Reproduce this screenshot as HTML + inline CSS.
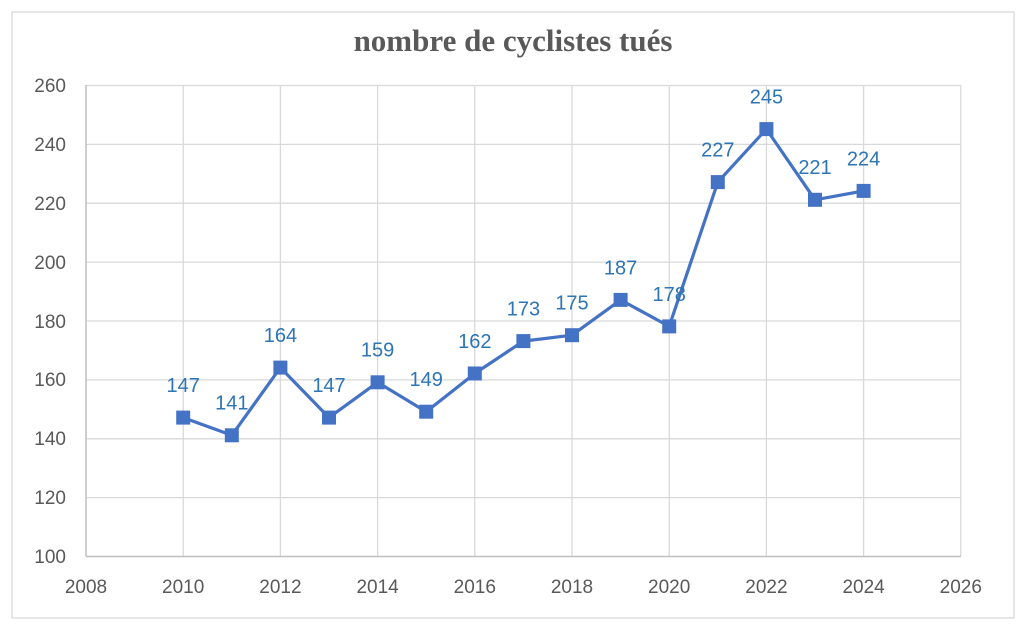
<!DOCTYPE html>
<html><head><meta charset="utf-8"><style>body{margin:0;background:#fff}</style></head><body>
<svg width="1030" height="632" xmlns="http://www.w3.org/2000/svg" font-family="Liberation Sans, sans-serif">
<rect x="0" y="0" width="1030" height="632" fill="#fff"/>
<rect x="12" y="12" width="1002" height="606" fill="none" stroke="#d9d9d9" stroke-width="1.3"/>
<text x="513" y="51" text-anchor="middle" font-family="Liberation Serif, serif" font-weight="bold" font-size="31" fill="#595959">nombre de cyclistes tués</text>
<g stroke="#d9d9d9" stroke-width="1.3">
<line x1="86" y1="85.5" x2="961" y2="85.5"/><line x1="86" y1="144.4" x2="961" y2="144.4"/><line x1="86" y1="203.2" x2="961" y2="203.2"/><line x1="86" y1="262.1" x2="961" y2="262.1"/><line x1="86" y1="321" x2="961" y2="321"/><line x1="86" y1="379.9" x2="961" y2="379.9"/><line x1="86" y1="438.8" x2="961" y2="438.8"/><line x1="86" y1="497.6" x2="961" y2="497.6"/>
<line x1="183.2" y1="85.5" x2="183.2" y2="556"/><line x1="280.4" y1="85.5" x2="280.4" y2="556"/><line x1="377.6" y1="85.5" x2="377.6" y2="556"/><line x1="474.8" y1="85.5" x2="474.8" y2="556"/><line x1="572" y1="85.5" x2="572" y2="556"/><line x1="669.2" y1="85.5" x2="669.2" y2="556"/><line x1="766.4" y1="85.5" x2="766.4" y2="556"/><line x1="863.6" y1="85.5" x2="863.6" y2="556"/><line x1="960.8" y1="85.5" x2="960.8" y2="556"/>
</g>
<g stroke="#bfbfbf" stroke-width="1.5"><line x1="86" y1="85" x2="86" y2="556.5"/><line x1="86" y1="556.5" x2="961" y2="556.5"/></g>
<g font-size="19" fill="#595959" text-anchor="end">
<text x="66" y="92">260</text><text x="66" y="151">240</text><text x="66" y="210">220</text><text x="66" y="269">200</text><text x="66" y="328">180</text><text x="66" y="386">160</text><text x="66" y="445">140</text><text x="66" y="504">120</text><text x="66" y="563">100</text>
</g>
<g font-size="19" fill="#595959" text-anchor="middle">
<text x="86" y="593">2008</text><text x="183.2" y="593">2010</text><text x="280.4" y="593">2012</text><text x="377.6" y="593">2014</text><text x="474.8" y="593">2016</text><text x="572" y="593">2018</text><text x="669.2" y="593">2020</text><text x="766.4" y="593">2022</text><text x="863.6" y="593">2024</text><text x="960.8" y="593">2026</text>
</g>
<polyline fill="none" stroke="#4472c4" stroke-width="3.2" stroke-linejoin="round" points="183.2,417.6 231.8,435.3 280.4,367.6 329,417.6 377.6,382.3 426.2,411.7 474.8,373.5 523.4,341.1 572,335.2 620.6,299.9 669.2,326.4 717.8,182.1 766.4,129.1 815,199.8 863.6,190.9"/>
<g fill="#4472c4">
<rect x="176.2" y="410.6" width="14" height="14"/><rect x="224.8" y="428.3" width="14" height="14"/><rect x="273.4" y="360.6" width="14" height="14"/><rect x="322" y="410.6" width="14" height="14"/><rect x="370.6" y="375.3" width="14" height="14"/><rect x="419.2" y="404.7" width="14" height="14"/><rect x="467.8" y="366.5" width="14" height="14"/><rect x="516.4" y="334.1" width="14" height="14"/><rect x="565" y="328.2" width="14" height="14"/><rect x="613.6" y="292.9" width="14" height="14"/><rect x="662.2" y="319.4" width="14" height="14"/><rect x="710.8" y="175.1" width="14" height="14"/><rect x="759.4" y="122.1" width="14" height="14"/><rect x="808" y="192.8" width="14" height="14"/><rect x="856.6" y="183.9" width="14" height="14"/>
</g>
<g font-size="20" fill="#2e75b6" text-anchor="middle">
<text x="183.2" y="392">147</text><text x="231.8" y="409.7">141</text><text x="280.4" y="342">164</text><text x="329" y="392">147</text><text x="377.6" y="356.7">159</text><text x="426.2" y="386.1">149</text><text x="474.8" y="347.9">162</text><text x="523.4" y="315.5">173</text><text x="572" y="309.6">175</text><text x="620.6" y="274.3">187</text><text x="669.2" y="300.8">178</text><text x="717.8" y="156.5">227</text><text x="766.4" y="103.5">245</text><text x="815" y="174.2">221</text><text x="863.6" y="165.3">224</text>
</g>
</svg>
</body></html>
